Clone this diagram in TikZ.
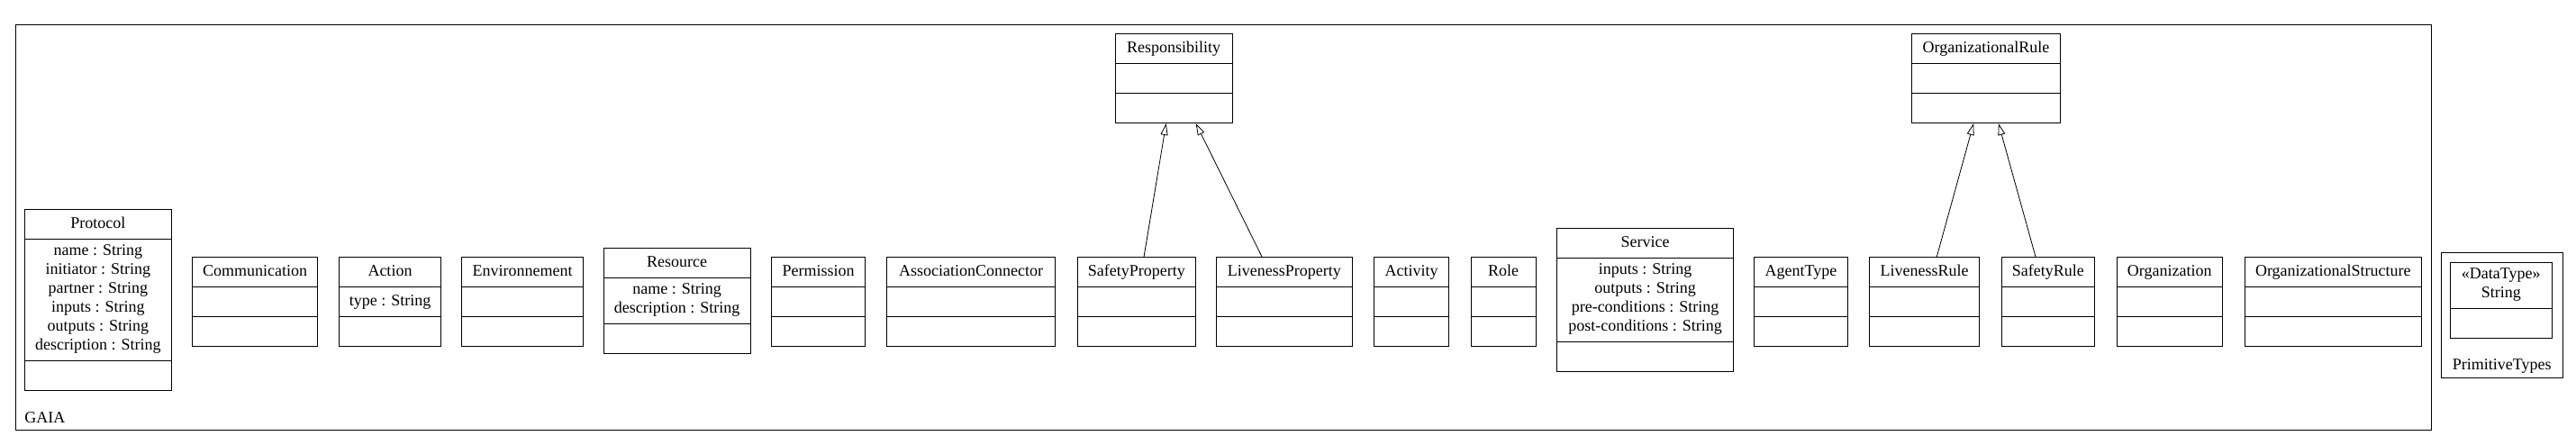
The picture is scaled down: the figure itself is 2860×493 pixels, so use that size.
\documentclass[tikz,border=0pt]{standalone}
\usepackage{fontspec}
\setmainfont{Liberation Serif}
\usepackage{tikz}
\usetikzlibrary{calc}
\usetikzlibrary{arrows.meta}
\usetikzlibrary{shapes.multipart}

\tikzset{
	umlclass/.style={rectangle split, rectangle split parts=3, draw, line width=0.5pt, anchor=north west,
		inner xsep=2pt, inner ysep=2.75pt, align=center, font=\fontsize{9}{10.5}\selectfont\strut,
		rectangle split empty part height=7.35pt, rectangle split empty part depth=3.15pt},
	umlpackage/.style={draw, line width=0.6pt, anchor=north west, inner sep=0pt},
	pkglabel/.style={inner sep=0pt, font=\fontsize{9}{10.5}\selectfont},
	generalization/.style={-{Triangle[open, length=6.5pt, width=4pt]}, line width=0.4pt}
}

\begin{document}
\begin{tikzpicture}[x=0.5pt, y=-0.5pt]
			\useasboundingbox (0,0) rectangle (2860,493);
			\node [umlpackage, minimum width=1341.1pt, minimum height=225pt] (gaia) at (16.5,27) {};
			\node [pkglabel, anchor=base west] at ($(gaia.south west)+(10.5,-9)$) {GAIA};
			\node [umlclass, minimum width=81.25pt] (protocol) at (27.2,232) {Protocol \nodepart{two} name : String\\ initiator : String\\ partner : String\\ inputs : String\\ outputs : String\\ description : String \nodepart{three}};
			\node [umlclass, minimum width=69.5pt] (communication) at (213,285) {Communication \nodepart{two} \nodepart{three}};
			\node [umlclass, minimum width=56.5pt] (action) at (376,285) {Action \nodepart{two} type : String \nodepart{three}};
			\node [umlclass, minimum width=67.5pt] (environnement) at (512,285) {Environnement \nodepart{two} \nodepart{three}};
			\node [umlclass, minimum width=81.5pt] (resource) at (669.6,275) {Resource \nodepart{two} name : String\\ description : String \nodepart{three}};
			\node [umlclass, minimum width=52pt] (permission) at (856,285) {Permission \nodepart{two} \nodepart{three}};
			\node [umlclass, minimum width=93.5pt] (associationconnector) at (984,285) {AssociationConnector \nodepart{two} \nodepart{three}};
			\node [umlclass, minimum width=65.75pt] (safetyproperty) at (1195.5,285) {SafetyProperty \nodepart{two} \nodepart{three}};
			\node [umlclass, minimum width=75.75pt] (livenessproperty) at (1349.5,285) {LivenessProperty \nodepart{two} \nodepart{three}};
			\node [umlclass, minimum width=41.5pt] (activity) at (1525,285) {Activity \nodepart{two} \nodepart{three}};
			\node [umlclass, minimum width=36pt] (role) at (1632.6,285) {Role \nodepart{two} \nodepart{three}};
			\node [umlclass, minimum width=98pt] (service) at (1728,253) {Service \nodepart{two} inputs : String\\ outputs : String\\ pre-conditions : String\\ post-conditions : String \nodepart{three}};
			\node [umlclass, minimum width=52pt] (agenttype) at (1947,285) {AgentType \nodepart{two} \nodepart{three}};
			\node [umlclass, minimum width=61pt] (livenessrule) at (2075,285) {LivenessRule \nodepart{two} \nodepart{three}};
			\node [umlclass, minimum width=51.75pt] (safetyrule) at (2221.6,285) {SafetyRule \nodepart{two} \nodepart{three}};
			\node [umlclass, minimum width=58.75pt] (organization) at (2349.5,285) {Organization \nodepart{two} \nodepart{three}};
			\node [umlclass, minimum width=98.25pt] (organizationalstructure) at (2491.6,285) {OrganizationalStructure \nodepart{two} \nodepart{three}};
			\node [umlclass, minimum width=65pt] (responsibility) at (1237.5,37) {Responsibility \nodepart{two} \nodepart{three}};
			\node [umlclass, minimum width=82.85pt] (organizationalrule) at (2121.6,37) {OrganizationalRule \nodepart{two} \nodepart{three}};
			\draw [generalization] (safetyproperty) -- (responsibility);
			\draw [generalization] (livenessproperty) -- (responsibility);
			\draw [generalization] (livenessrule) -- (organizationalrule);
			\draw [generalization] (safetyrule) -- (organizationalrule);
			\node [umlpackage, minimum width=67.35pt, minimum height=69.5pt] (primitivetypes) at (2709.8,280) {};
			\node [pkglabel, anchor=base] at ($(primitivetypes.south)+(0,-9.5)$) {PrimitiveTypes};
			\node [umlclass, rectangle split parts=2, minimum width=56.3pt] (string) at (2720,291) {«DataType»\\ String \nodepart{two}};
		\end{tikzpicture}
\end{document}
